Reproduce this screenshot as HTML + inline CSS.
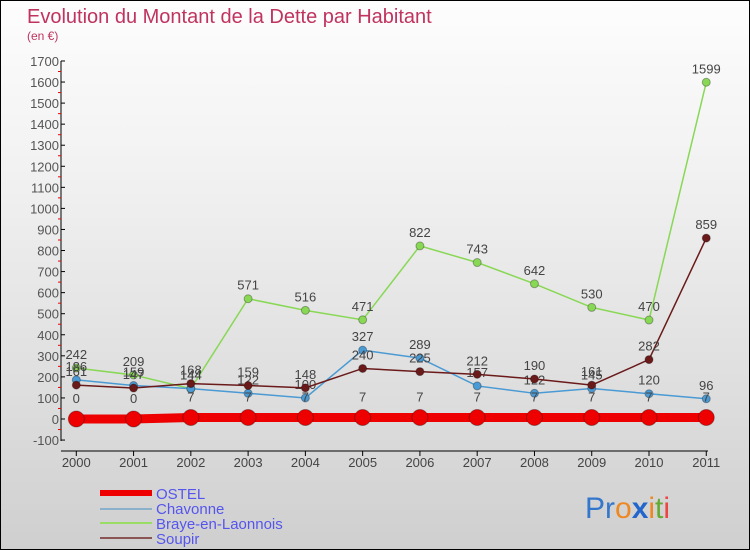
<!DOCTYPE html>
<html><head><meta charset="utf-8"><style>
body{margin:0;}
#wrap{width:750px;height:550px;position:relative;overflow:hidden;box-sizing:border-box;border:1px solid #000;background:linear-gradient(#fdfdfd,#f2f2f2 30%,#dcdcdc 75%,#cfcfcf);font-family:"Liberation Sans",sans-serif;}
svg text{font-family:"Liberation Sans",sans-serif;}
</style></head><body>
<div id="wrap">
<svg id="c" width="750" height="550">
<text x="26" y="22" font-size="20" fill="#c0335f">Evolution du Montant de la Dette par Habitant</text>
<text x="26" y="39" font-size="12" fill="#c0335f">(en €)</text>
<line x1="60" y1="60" x2="60" y2="440" stroke="#000"/>
<line x1="60" y1="450" x2="707" y2="450" stroke="#000"/>
<g id="g"></g>
<g>
<rect x="99" y="489" width="52" height="6" fill="#e00"/>
<line x1="99" y1="508" x2="151" y2="508" stroke="#8ab0cc" stroke-width="2"/>
<line x1="99" y1="522" x2="151" y2="522" stroke="#99dd66" stroke-width="2"/>
<line x1="99" y1="537" x2="151" y2="537" stroke="#8a5555" stroke-width="2"/>
<text x="155" y="498" font-size="15" fill="#5555ee">OSTEL</text>
<text x="155" y="513" font-size="15" fill="#5555ee">Chavonne</text>
<text x="155" y="528" font-size="15" fill="#5555ee">Braye-en-Laonnois</text>
<text x="155" y="543" font-size="15" fill="#5555ee">Soupir</text>
</g>
<text x="584" y="517" font-size="30" fill="#3377cc">Pr<tspan fill="#ee8822">o</tspan><tspan fill="#2266cc" font-weight="bold">x</tspan><tspan fill="#ee8822">i</tspan><tspan fill="#66aa33">t</tspan><tspan fill="#ee4444">i</tspan></text>
</svg>
</div>
<script>
const years=["2000","2001","2002","2003","2004","2005","2006","2007","2008","2009","2010","2011"];
const ostel=[0,0,7,7,7,7,7,7,7,7,7,7];
const chavonne=[186,159,144,122,100,327,289,157,122,145,120,96];
const braye=[242,209,144,571,516,471,822,743,642,530,470,1599];
const soupir=[161,147,168,159,148,240,225,212,190,161,282,859];
const yTicks=[-100,0,100,200,300,400,500,600,700,800,900,1000,1100,1200,1300,1400,1500,1600,1700];
const NS="http://www.w3.org/2000/svg";
const g=document.getElementById('g');
function X(i){return 75.3+i*57.27;}
function Y(v){return 418-v*0.2106;}
function mk(t,a){const e=document.createElementNS(NS,t);for(const k in a)e.setAttribute(k,a[k]);g.appendChild(e);return e;}
yTicks.forEach(v=>{
 const l=mk('line',{x1:60,y1:Y(v),x2:64,y2:Y(v),stroke:'#000'});
 
 
 const t=mk('text',{x:58,y:Y(v)+5,'font-size':13,fill:'#555','text-anchor':'end'});
 
 
 t.textContent=v;
 if(v<1700){const m=mk('line',{x1:57,y1:Y(v+50),x2:60,y2:Y(v+50),stroke:'#e00'});
 
 }
});
years.forEach((y,i)=>{
 const l=mk('line',{x1:X(i),y1:450,x2:X(i),y2:455,stroke:'#000'});
 
 
 const t=mk('text',{x:X(i),y:466,'font-size':13,fill:'#444','text-anchor':'middle'});
 
 
 t.textContent=y;
});
function series(name,data,color,lw,r,lblOff){
 const pts=data.map((v,i)=>X(i)+','+Y(v)).join(' ');
 const p=mk('polyline',{points:pts,fill:'none',stroke:color,'stroke-width':lw});
 
 
 data.forEach((v,i)=>{
  const c=mk('circle',{cx:X(i),cy:Y(v),r:r,fill:color,stroke:'rgba(0,0,0,0.3)','stroke-width':1});
  
  
  const t=mk('text',{x:X(i),y:Y(v)-lblOff,'font-size':13,fill:'#444','text-anchor':'middle'});
  
  
  t.textContent=v;
 });
}
series('braye',braye,'#88d855',1.5,4,9);
series('chavonne',chavonne,'#4a9ad4',1.5,4,9);
series('soupir',soupir,'#6b1a1a',1.5,4,9);
series('ostel',ostel,'#ee0000',9,8,16);
</script>
</body></html>
